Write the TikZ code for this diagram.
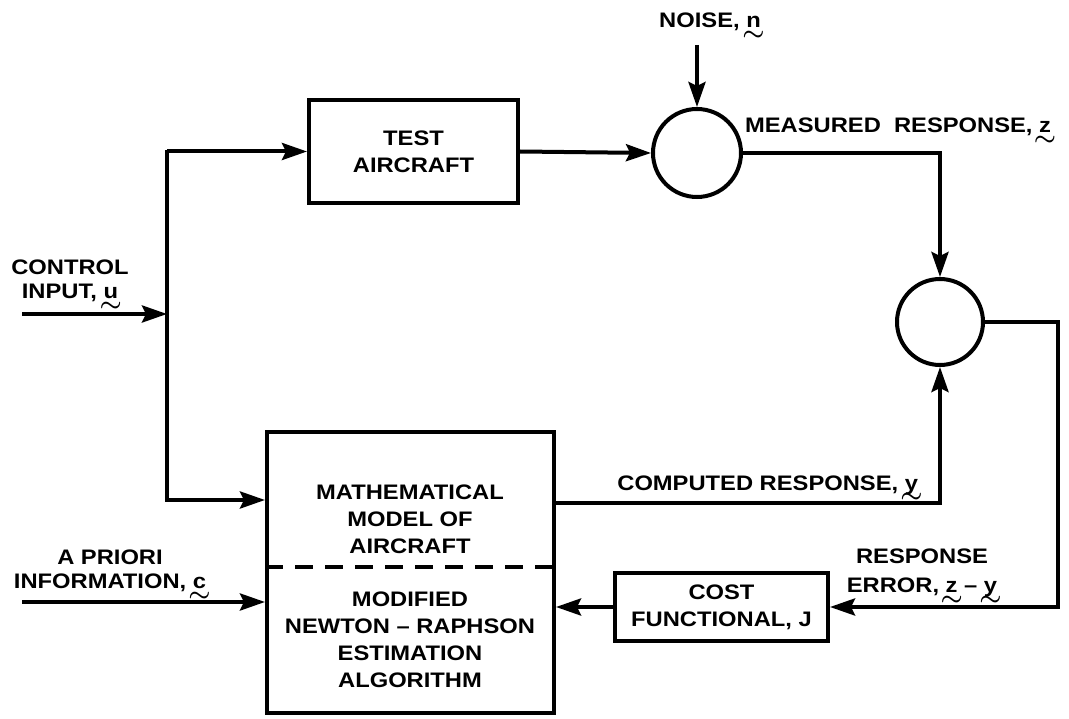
\documentclass[tikz,border=0pt]{standalone}
\usepackage{fontspec}
\setmainfont{Liberation Sans}[FakeStretch=1.13]
\usetikzlibrary{arrows.meta}
\newsavebox\tvbox
\newcommand\tv[1]{\sbox\tvbox{#1}\makebox[\wd\tvbox]{\raisebox{-0.6em}[0pt][0pt]{\scalebox{1.2}[1.15]{\boldmath$\sim$}}}\kern-\wd\tvbox\usebox\tvbox}
\begin{document}
\begin{tikzpicture}[x=1pt,y=-1pt,line width=4pt,
  arr/.style={-{Stealth[length=25pt,width=17pt,inset=4pt]}},
  box/.style={draw,inner sep=0pt,align=center,font=\fontsize{21}{27}\selectfont\bfseries},
  circ/.style={draw,circle,inner sep=0pt,minimum size=#1},
  lbl/.style={inner sep=0pt,align=center,font=\fontsize{21}{#1}\selectfont\bfseries},
  lbl/.default=27]
\useasboundingbox (0,0) rectangle (1069,719);
\fill[white] (0,0) rectangle (1069,719);
% blocks
\node[box,minimum width=209pt,minimum height=103pt] (test) at (413.5,151.5) {TEST\\AIRCRAFT};
\node[circ=88pt] (sum1) at (697,153) {};
\node[circ=86pt] (sum2) at (940,322) {};
\node[box,minimum width=287pt,minimum height=281pt] (big) at (410.5,572.5) {};
\node[box,minimum width=213pt,minimum height=68pt] (cost) at (721.5,607) {COST\\FUNCTIONAL, J};
\draw[dash pattern=on 18pt off 12pt] (big.west |- 0,567) -- (big.east |- 0,567);
\node[lbl,anchor=north] (mm) at (410,483) {MATHEMATICAL\\MODEL OF\\AIRCRAFT};
\node[lbl,anchor=north] (nr) at (410,590) {MODIFIED\\NEWTON -- RAPHSON\\ESTIMATION\\ALGORITHM};
% labels
\node[lbl,anchor=base] (noise) at (710,28) {NOISE, \tv{n}};
\node[lbl,anchor=base east] (meas) at (1053,133) {MEASURED~ RESPONSE, \tv{z}};
\node[lbl,anchor=base east] (comp) at (920,490) {COMPUTED RESPONSE, \tv{y}};
\node[lbl=24,anchor=north] (ctl) at (70,258) {CONTROL\\INPUT, \tv{u}};
\node[lbl=24,anchor=north] (apr) at (110,548) {A PRIORI\\INFORMATION, \tv{c}};
\node[lbl=29,anchor=north] (err) at (922,547) {RESPONSE\\ERROR, \tv{z} -- \tv{y}};
% junction coordinates
\coordinate (ctlin) at (22,314);
\coordinate (aprin) at (22,602);
\coordinate (noisein) at (697,45);
\coordinate (jtop) at (167,152);
\coordinate (jbot) at (167,500);
\coordinate (jin) at (167,314);
% connectors
\draw[arr] (ctlin) -- (jin);
\draw[line cap=rect] (jtop) -- (jbot);
\draw[arr] (test.west -| jtop) -- (test.west);
\draw[arr] (jbot) -- (jbot -| big.west);
\draw[arr] (test.east) -- (sum1.west);
\draw[arr] (noisein) -- (sum1.north);
\draw[arr] (sum1.east) -| (sum2.north);
\draw[arr] ([yshift=69.5pt]big.east) -| (sum2.south);
\draw[arr] (sum2.east) -- ++(73,0) |- (cost.east);
\draw[arr] (cost.west) -- (cost.west -| big.east);
\draw[arr] (aprin) -- (aprin -| big.west);
\end{tikzpicture}
\end{document}
